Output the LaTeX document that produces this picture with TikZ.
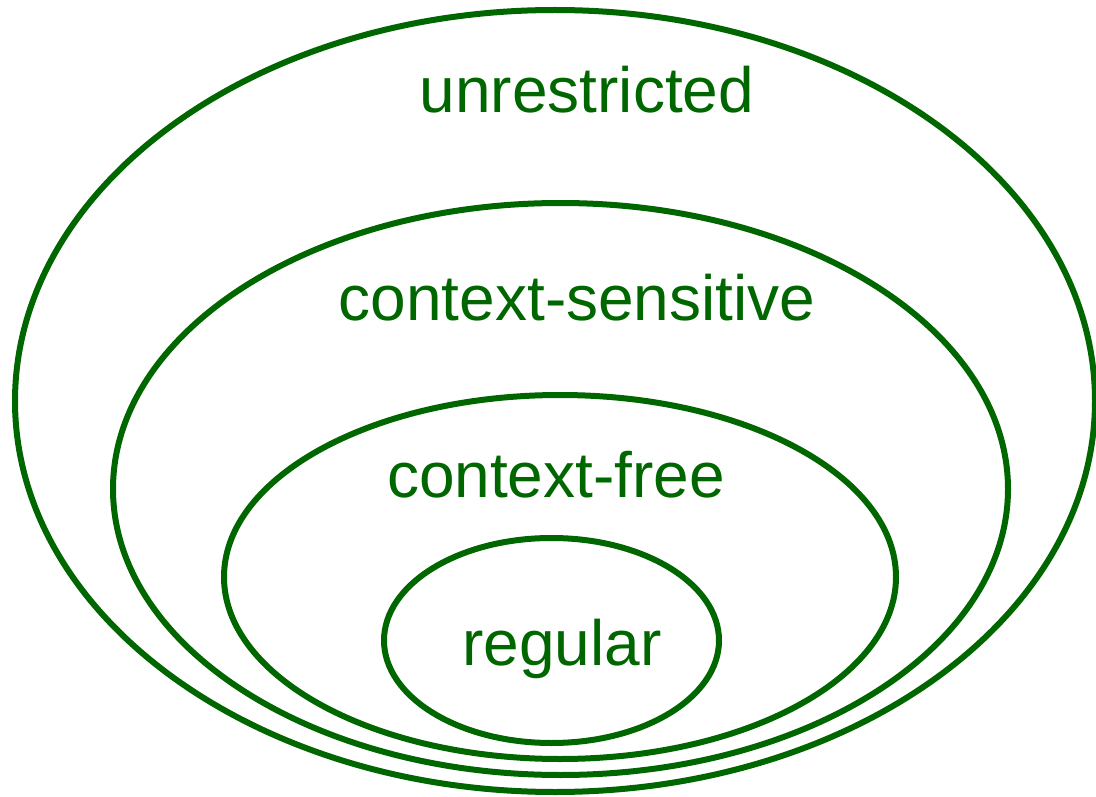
\documentclass[tikz,border=0pt]{standalone}
\usepackage{fontspec}
\setmainfont{Liberation Sans}
\definecolor{langgreen}{RGB}{0,102,0}
\begin{document}
\begin{tikzpicture}[x=1pt,y=-1pt]

      \useasboundingbox (0,0) rectangle (1096,797);

      \begin{scope}[draw=langgreen, line width=6pt]
        \draw (555,401)   ellipse [x radius=540, y radius=391];
        \draw (560.5,489) ellipse [x radius=447.5, y radius=286];
        \draw (560,577)   ellipse [x radius=336, y radius=182];
        \draw (551.5,640.5) ellipse [x radius=167.5, y radius=102.5];
      \end{scope}

      \begin{scope}[every node/.style={anchor=base, inner sep=0pt, text=langgreen,
          font=\fontsize{64}{72}\selectfont}]
        \node (unr) at (587,113) {unrestricted};
        \node (cs)  at (577,320) {context-sensitive};
        \node (cf)  at (556,497) {context-free};
        \node (reg) at (562,665) {regular};
      \end{scope}

    \end{tikzpicture}
\end{document}
